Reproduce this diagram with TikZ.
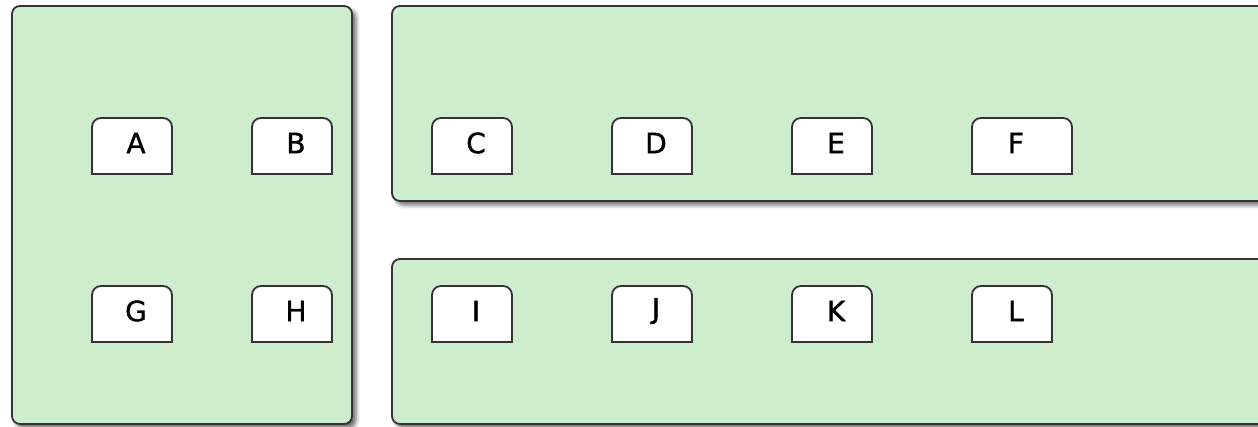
\documentclass[tikz,border=0pt]{standalone}
\usepackage{fontspec}
\setmainfont{DejaVu Sans}
\newfontfamily\lblfont{DejaVu Sans}[FakeBold=1.2]
\usepackage{tikz}
\usetikzlibrary{shadows.blur}
\definecolor{panelgreen}{HTML}{CDEDCD}
\definecolor{edgegray}{HTML}{333333}

\tikzset{
  panel/.style={draw=edgegray, line width=1.8pt, fill=panelgreen, rounded corners=8pt,
    blur shadow={shadow xshift=4pt, shadow yshift=-4pt, shadow blur radius=4pt, shadow opacity=60}},
  tab/.style={draw=edgegray, line width=1.8pt, fill=white},
  lbl/.style={inner sep=0pt, font=\lblfont\fontsize{28}{32}\selectfont}
}

% tab: name, left, top, width, label
\newcommand{\tabnode}[5]{%
  \draw[tab] (#2,#3+56) -- (#2,#3+9) arc[start angle=180, end angle=270, radius=9]
    -- (#2+#4-9,#3) arc[start angle=270, end angle=360, radius=9] -- (#2+#4,#3+56) -- cycle;
  \node[lbl] (#1) at (#2+44,#3+25) {#5};
}

\begin{document}
\begin{tikzpicture}[x=1pt,y=-1pt]
  \useasboundingbox (0,0) rectangle (1258,426);
  % panels
  \draw[panel] (12,6) rectangle (352,424);
  \draw[panel] (392,6) rectangle (1300,201);
  \draw[panel] (392,259) rectangle (1300,424);
  % tabs
  \foreach \n/\x/\y/\w in {A/92/118/80, B/252/118/80, C/432/118/80, D/612/118/80, E/792/118/80, F/972/118/100,
                           G/92/286/80, H/252/286/80, I/432/286/80, J/612/286/80, K/792/286/80, L/972/286/80}
    \tabnode{\n}{\x}{\y}{\w}{\n};
\end{tikzpicture}
\end{document}
